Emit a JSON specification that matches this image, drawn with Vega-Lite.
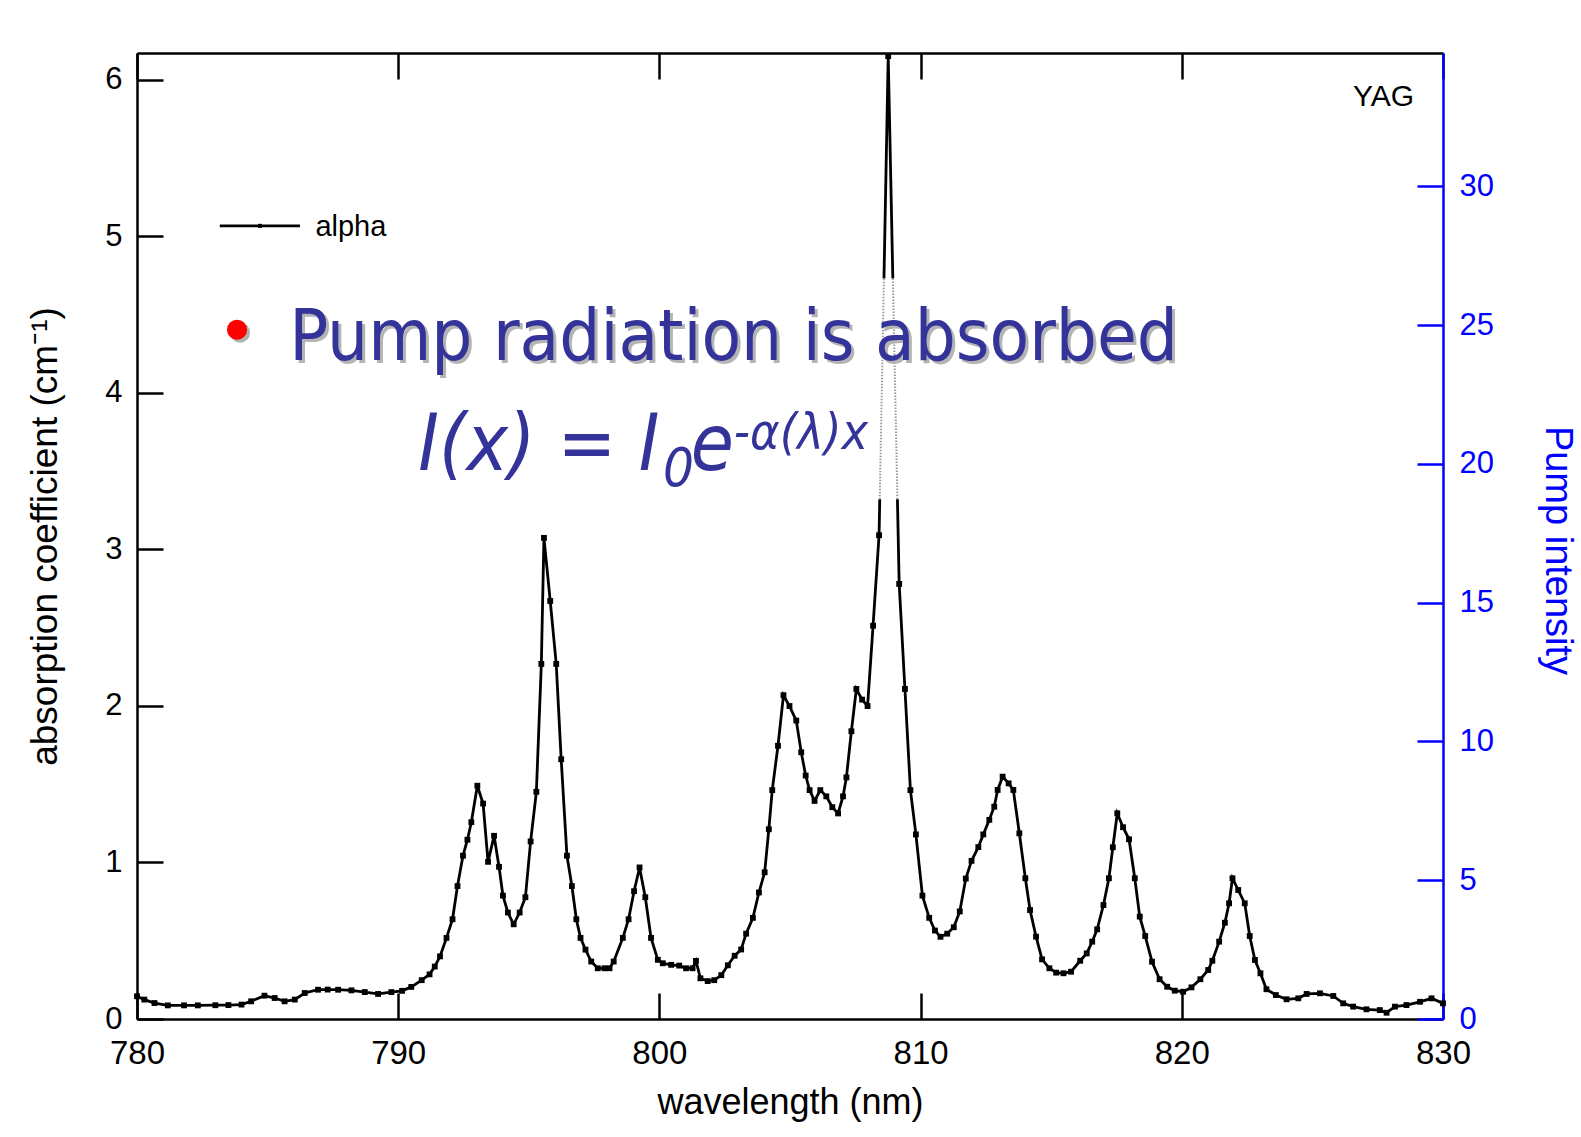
{
  "$schema": "https://vega.github.io/schema/vega-lite/v6.json",
  "width": 1306,
  "height": 966,
  "autosize": {"type": "none"},
  "padding": {"left": 137, "top": 53, "right": 138, "bottom": 118},
  "background": "white",
  "config": {"view": {"stroke": null}, "font": "Liberation Sans", "axis": {"grid": false}},
  "datasets": {
    "spectrum": [
      {"wl": 780.0, "alpha": 0.145}, {"wl": 780.28, "alpha": 0.124}, {"wl": 780.67, "alpha": 0.102}, {"wl": 781.18, "alpha": 0.087},
      {"wl": 781.8, "alpha": 0.087}, {"wl": 782.33, "alpha": 0.087}, {"wl": 783.0, "alpha": 0.088}, {"wl": 783.5, "alpha": 0.089},
      {"wl": 784.0, "alpha": 0.092}, {"wl": 784.37, "alpha": 0.113}, {"wl": 784.88, "alpha": 0.149}, {"wl": 785.27, "alpha": 0.134},
      {"wl": 785.65, "alpha": 0.113}, {"wl": 786.04, "alpha": 0.124}, {"wl": 786.42, "alpha": 0.166}, {"wl": 786.93, "alpha": 0.187},
      {"wl": 787.3, "alpha": 0.188}, {"wl": 787.7, "alpha": 0.187}, {"wl": 788.21, "alpha": 0.183}, {"wl": 788.72, "alpha": 0.172},
      {"wl": 789.23, "alpha": 0.16}, {"wl": 789.74, "alpha": 0.172}, {"wl": 790.15, "alpha": 0.18}, {"wl": 790.5, "alpha": 0.205},
      {"wl": 790.9, "alpha": 0.248}, {"wl": 791.2, "alpha": 0.285}, {"wl": 791.4, "alpha": 0.335}, {"wl": 791.6, "alpha": 0.4},
      {"wl": 791.85, "alpha": 0.518}, {"wl": 792.08, "alpha": 0.637}, {"wl": 792.27, "alpha": 0.849}, {"wl": 792.48, "alpha": 1.043},
      {"wl": 792.65, "alpha": 1.145}, {"wl": 792.8, "alpha": 1.257}, {"wl": 793.03, "alpha": 1.49}, {"wl": 793.25, "alpha": 1.376},
      {"wl": 793.44, "alpha": 1.004}, {"wl": 793.67, "alpha": 1.17}, {"wl": 793.86, "alpha": 0.972}, {"wl": 794.01, "alpha": 0.788},
      {"wl": 794.2, "alpha": 0.68}, {"wl": 794.42, "alpha": 0.605}, {"wl": 794.65, "alpha": 0.68}, {"wl": 794.87, "alpha": 0.778},
      {"wl": 795.07, "alpha": 1.134}, {"wl": 795.29, "alpha": 1.451}, {"wl": 795.48, "alpha": 2.268}, {"wl": 795.58, "alpha": 3.073},
      {"wl": 795.82, "alpha": 2.67}, {"wl": 796.05, "alpha": 2.268}, {"wl": 796.24, "alpha": 1.659}, {"wl": 796.46, "alpha": 1.043},
      {"wl": 796.65, "alpha": 0.849}, {"wl": 796.82, "alpha": 0.637}, {"wl": 796.98, "alpha": 0.518}, {"wl": 797.17, "alpha": 0.443},
      {"wl": 797.39, "alpha": 0.367}, {"wl": 797.64, "alpha": 0.324}, {"wl": 797.9, "alpha": 0.324}, {"wl": 798.09, "alpha": 0.324},
      {"wl": 798.25, "alpha": 0.367}, {"wl": 798.6, "alpha": 0.518}, {"wl": 798.82, "alpha": 0.637}, {"wl": 799.03, "alpha": 0.816},
      {"wl": 799.24, "alpha": 0.968}, {"wl": 799.46, "alpha": 0.778}, {"wl": 799.68, "alpha": 0.518}, {"wl": 799.94, "alpha": 0.378},
      {"wl": 800.13, "alpha": 0.356}, {"wl": 800.45, "alpha": 0.346}, {"wl": 800.76, "alpha": 0.341}, {"wl": 801.02, "alpha": 0.324},
      {"wl": 801.27, "alpha": 0.324}, {"wl": 801.4, "alpha": 0.371}, {"wl": 801.57, "alpha": 0.26}, {"wl": 801.85, "alpha": 0.242},
      {"wl": 802.1, "alpha": 0.248}, {"wl": 802.37, "alpha": 0.28}, {"wl": 802.62, "alpha": 0.343}, {"wl": 802.88, "alpha": 0.404},
      {"wl": 803.13, "alpha": 0.444}, {"wl": 803.32, "alpha": 0.545}, {"wl": 803.58, "alpha": 0.646}, {"wl": 803.81, "alpha": 0.808},
      {"wl": 804.03, "alpha": 0.937}, {"wl": 804.19, "alpha": 1.212}, {"wl": 804.32, "alpha": 1.462}, {"wl": 804.54, "alpha": 1.745},
      {"wl": 804.75, "alpha": 2.068}, {"wl": 804.98, "alpha": 1.999}, {"wl": 805.24, "alpha": 1.906}, {"wl": 805.43, "alpha": 1.704},
      {"wl": 805.6, "alpha": 1.555}, {"wl": 805.75, "alpha": 1.462}, {"wl": 805.94, "alpha": 1.393}, {"wl": 806.16, "alpha": 1.462},
      {"wl": 806.39, "alpha": 1.422}, {"wl": 806.62, "alpha": 1.353}, {"wl": 806.84, "alpha": 1.313}, {"wl": 807.03, "alpha": 1.422},
      {"wl": 807.16, "alpha": 1.543}, {"wl": 807.35, "alpha": 1.838}, {"wl": 807.54, "alpha": 2.108}, {"wl": 807.76, "alpha": 2.04},
      {"wl": 807.97, "alpha": 1.999}, {"wl": 808.18, "alpha": 2.512}, {"wl": 808.41, "alpha": 3.09}, {"wl": 808.76, "alpha": 6.15},
      {"wl": 809.18, "alpha": 2.779}, {"wl": 809.4, "alpha": 2.108}, {"wl": 809.61, "alpha": 1.462}, {"wl": 809.82, "alpha": 1.179},
      {"wl": 810.07, "alpha": 0.788}, {"wl": 810.33, "alpha": 0.646}, {"wl": 810.55, "alpha": 0.565}, {"wl": 810.76, "alpha": 0.525},
      {"wl": 811.02, "alpha": 0.545}, {"wl": 811.27, "alpha": 0.586}, {"wl": 811.5, "alpha": 0.687}, {"wl": 811.73, "alpha": 0.897},
      {"wl": 811.95, "alpha": 1.01}, {"wl": 812.21, "alpha": 1.098}, {"wl": 812.4, "alpha": 1.179}, {"wl": 812.63, "alpha": 1.272},
      {"wl": 812.82, "alpha": 1.356}, {"wl": 812.95, "alpha": 1.463}, {"wl": 813.14, "alpha": 1.548}, {"wl": 813.37, "alpha": 1.505},
      {"wl": 813.55, "alpha": 1.463}, {"wl": 813.78, "alpha": 1.186}, {"wl": 814.01, "alpha": 0.899}, {"wl": 814.19, "alpha": 0.696},
      {"wl": 814.42, "alpha": 0.526}, {"wl": 814.65, "alpha": 0.381}, {"wl": 814.93, "alpha": 0.324}, {"wl": 815.19, "alpha": 0.296},
      {"wl": 815.47, "alpha": 0.292}, {"wl": 815.76, "alpha": 0.302}, {"wl": 816.11, "alpha": 0.372}, {"wl": 816.36, "alpha": 0.419},
      {"wl": 816.57, "alpha": 0.494}, {"wl": 816.76, "alpha": 0.573}, {"wl": 817.0, "alpha": 0.728}, {"wl": 817.21, "alpha": 0.899},
      {"wl": 817.36, "alpha": 1.097}, {"wl": 817.53, "alpha": 1.314}, {"wl": 817.75, "alpha": 1.225}, {"wl": 817.98, "alpha": 1.148},
      {"wl": 818.2, "alpha": 0.899}, {"wl": 818.39, "alpha": 0.654}, {"wl": 818.6, "alpha": 0.53}, {"wl": 818.86, "alpha": 0.366},
      {"wl": 819.15, "alpha": 0.254}, {"wl": 819.44, "alpha": 0.206}, {"wl": 819.73, "alpha": 0.181}, {"wl": 820.05, "alpha": 0.174},
      {"wl": 820.37, "alpha": 0.202}, {"wl": 820.71, "alpha": 0.254}, {"wl": 821.01, "alpha": 0.313}, {"wl": 821.17, "alpha": 0.372},
      {"wl": 821.43, "alpha": 0.494}, {"wl": 821.65, "alpha": 0.615}, {"wl": 821.81, "alpha": 0.739}, {"wl": 821.94, "alpha": 0.899},
      {"wl": 822.16, "alpha": 0.824}, {"wl": 822.41, "alpha": 0.739}, {"wl": 822.6, "alpha": 0.53}, {"wl": 822.8, "alpha": 0.377},
      {"wl": 823.01, "alpha": 0.292}, {"wl": 823.24, "alpha": 0.19}, {"wl": 823.6, "alpha": 0.153}, {"wl": 824.01, "alpha": 0.126},
      {"wl": 824.46, "alpha": 0.132}, {"wl": 824.78, "alpha": 0.16}, {"wl": 825.29, "alpha": 0.164}, {"wl": 825.8, "alpha": 0.147},
      {"wl": 826.18, "alpha": 0.1}, {"wl": 826.56, "alpha": 0.079}, {"wl": 827.07, "alpha": 0.062}, {"wl": 827.58, "alpha": 0.057},
      {"wl": 827.84, "alpha": 0.04}, {"wl": 828.16, "alpha": 0.079}, {"wl": 828.6, "alpha": 0.089}, {"wl": 829.12, "alpha": 0.11},
      {"wl": 829.56, "alpha": 0.132}, {"wl": 830.0, "alpha": 0.1}
    ],
    "gap": [
      {"seg": "left", "wl": 808.436, "alpha": 3.32}, {"seg": "left", "wl": 808.596, "alpha": 4.73},
      {"seg": "right", "wl": 808.938, "alpha": 4.73}, {"seg": "right", "wl": 809.113, "alpha": 3.32}
    ],
    "legendLine": [{"wl": 783.17, "alpha": 5.066}, {"wl": 786.24, "alpha": 5.066}],
    "legendMark": [{"wl": 784.71, "alpha": 5.066}],
    "notes": [
      {"part": "yag", "wl": 827.72, "alpha": 5.89, "text": "YAG"},
      {"part": "alpha", "wl": 786.83, "alpha": 5.06, "text": "alpha"},
      {"part": "bullet", "wl": 783.83, "alpha": 4.403, "text": "•"},
      {"part": "headline", "wl": 785.83, "alpha": 4.21, "text": "Pump radiation is absorbed"},
      {"part": "fmain", "wl": 790.77, "alpha": 3.508, "text": "I(x) = I"},
      {"part": "fsub", "wl": 800.14, "alpha": 3.405, "text": "0"},
      {"part": "fe", "wl": 801.2, "alpha": 3.508, "text": "e"},
      {"part": "fsup", "wl": 802.85, "alpha": 3.64, "text": "-α(λ)x"}
    ]
  },
  "resolve": {"axis": {"x": "independent", "y": "independent"}},
  "layer": [
    {
      "data": {"name": "spectrum"},
      "mark": {"type": "line", "color": "black", "strokeWidth": 2.8},
      "encoding": {
        "x": {"field": "wl", "type": "quantitative", "scale": {"domain": [780, 830], "nice": false, "zero": false},
          "axis": {"orient": "bottom", "title": "wavelength (nm)", "values": [780, 790, 800, 810, 820, 830],
            "tickSize": -26, "tickWidth": 2.5, "tickColor": "black", "domainColor": "black", "domainWidth": 2.5,
            "labelFont": "Liberation Sans", "labelFontSize": 33, "labelColor": "black", "labelPadding": 44, "labelFlush": false,
            "titleFont": "Liberation Sans", "titleFontSize": 36, "titleFontWeight": "normal", "titleColor": "black", "titlePadding": 15}},
        "y": {"field": "alpha", "type": "quantitative", "scale": {"domain": [0, 6.17], "nice": false, "zero": false},
          "axis": {"orient": "left", "title": "absorption coefficient (cm⁻¹)", "values": [0, 1, 2, 3, 4, 5, 6],
            "tickSize": -26, "tickWidth": 2.5, "tickColor": "black", "domainColor": "black", "domainWidth": 2.5,
            "labelFont": "Liberation Sans", "labelFontSize": 31, "labelColor": "black", "labelPadding": 41, "labelFlush": false,
            "titleFont": "Liberation Sans", "titleFontSize": 37, "titleFontWeight": "normal", "titleColor": "black", "titlePadding": 40}}
      }
    },
    {
      "data": {"name": "spectrum"},
      "mark": {"type": "point", "shape": "square", "filled": true, "size": 34, "color": "black", "opacity": 1},
      "encoding": {
        "x": {"field": "wl", "type": "quantitative", "axis": null},
        "y": {"field": "alpha", "type": "quantitative", "axis": null}
      }
    },
    {
      "data": {"name": "gap"},
      "mark": {"type": "line", "color": "white", "strokeWidth": 5},
      "encoding": {
        "x": {"field": "wl", "type": "quantitative", "axis": null},
        "y": {"field": "alpha", "type": "quantitative", "axis": null},
        "detail": {"field": "seg"}
      }
    },
    {
      "data": {"name": "gap"},
      "mark": {"type": "line", "color": "#9a9a9a", "strokeWidth": 2, "strokeDash": [1.5, 1.5]},
      "encoding": {
        "x": {"field": "wl", "type": "quantitative", "axis": null},
        "y": {"field": "alpha", "type": "quantitative", "axis": null},
        "detail": {"field": "seg"}
      }
    },
    {
      "data": {"name": "notes"},
      "transform": [{"filter": "datum.part == 'yag'"}],
      "mark": {"type": "text", "align": "center", "baseline": "middle", "fontSize": 30, "color": "black", "font": "Liberation Sans"},
      "encoding": {
        "x": {"field": "wl", "type": "quantitative",
          "axis": {"orient": "top", "title": null, "labels": false, "values": [780, 790, 800, 810, 820, 830],
            "tickSize": -26, "tickWidth": 2.5, "tickColor": "black", "domainColor": "black", "domainWidth": 2.5}},
        "y": {"field": "alpha", "type": "quantitative", "axis": null},
        "text": {"field": "text"}
      }
    },
    {
      "data": {"name": "legendLine"},
      "mark": {"type": "line", "color": "black", "strokeWidth": 2.8},
      "encoding": {
        "x": {"field": "wl", "type": "quantitative", "axis": null},
        "y": {"field": "alpha", "type": "quantitative", "axis": null}
      }
    },
    {
      "data": {"name": "legendMark"},
      "mark": {"type": "point", "shape": "square", "filled": true, "size": 16, "color": "black", "opacity": 1},
      "encoding": {
        "x": {"field": "wl", "type": "quantitative", "axis": null},
        "y": {"field": "alpha", "type": "quantitative",
          "axis": {"orient": "right", "title": "Pump intensity",
            "values": [0, 0.886494, 1.772989, 2.659483, 3.545977, 4.432471, 5.318966],
            "labelExpr": "format(datum.value * 34.8 / 6.17, '.0f')",
            "tickSize": -26, "tickWidth": 2.5, "tickColor": "#0000ff", "domainColor": "#0000ff", "domainWidth": 2.5,
            "labelFont": "Liberation Sans", "labelFontSize": 31, "labelColor": "#0000ff", "labelPadding": 42, "labelFlush": false,
            "titleFont": "Liberation Sans", "titleFontSize": 38, "titleFontWeight": "normal", "titleColor": "#0000ff", "titlePadding": 44, "titleY": 497}}
      }
    },
    {
      "data": {"name": "notes"},
      "transform": [{"filter": "datum.part == 'alpha'"}],
      "mark": {"type": "text", "align": "left", "baseline": "middle", "fontSize": 29, "color": "black", "font": "Liberation Sans"},
      "encoding": {
        "x": {"field": "wl", "type": "quantitative", "axis": null},
        "y": {"field": "alpha", "type": "quantitative", "axis": null},
        "text": {"field": "text"}
      }
    },
    {
      "data": {"name": "notes"},
      "transform": [{"filter": "datum.part == 'bullet'"}],
      "mark": {"type": "point", "shape": "circle", "filled": true, "size": 400, "color": "#b0b0b0", "opacity": 1, "xOffset": 3, "yOffset": 3},
      "encoding": {
        "x": {"field": "wl", "type": "quantitative", "axis": null},
        "y": {"field": "alpha", "type": "quantitative", "axis": null}
      }
    },
    {
      "data": {"name": "notes"},
      "transform": [{"filter": "datum.part == 'bullet'"}],
      "mark": {"type": "point", "shape": "circle", "filled": true, "size": 400, "color": "#ff0000", "opacity": 1},
      "encoding": {
        "x": {"field": "wl", "type": "quantitative", "axis": null},
        "y": {"field": "alpha", "type": "quantitative", "axis": null}
      }
    },
    {
      "data": {"name": "notes"},
      "transform": [{"filter": "datum.part == 'headline'"}],
      "mark": {"type": "text", "align": "left", "baseline": "alphabetic", "fontSize": 72, "color": "#b4b4b4", "font": "DejaVu Sans Condensed", "dx": 3, "dy": 3},
      "encoding": {
        "x": {"field": "wl", "type": "quantitative", "axis": null},
        "y": {"field": "alpha", "type": "quantitative", "axis": null},
        "text": {"field": "text"}
      }
    },
    {
      "data": {"name": "notes"},
      "transform": [{"filter": "datum.part == 'headline'"}],
      "mark": {"type": "text", "align": "left", "baseline": "alphabetic", "fontSize": 72, "color": "#333399", "font": "DejaVu Sans Condensed"},
      "encoding": {
        "x": {"field": "wl", "type": "quantitative", "axis": null},
        "y": {"field": "alpha", "type": "quantitative", "axis": null},
        "text": {"field": "text"}
      }
    },
    {
      "data": {"name": "notes"},
      "transform": [{"filter": "datum.part == 'fmain' || datum.part == 'fe'"}],
      "mark": {"type": "text", "align": "left", "baseline": "alphabetic", "fontSize": 78, "fontStyle": "italic", "color": "#333399", "font": "DejaVu Sans Condensed"},
      "encoding": {
        "x": {"field": "wl", "type": "quantitative", "axis": null},
        "y": {"field": "alpha", "type": "quantitative", "axis": null},
        "text": {"field": "text"}
      }
    },
    {
      "data": {"name": "notes"},
      "transform": [{"filter": "datum.part == 'fsub'"}],
      "mark": {"type": "text", "align": "left", "baseline": "alphabetic", "fontSize": 54, "fontStyle": "italic", "color": "#333399", "font": "DejaVu Sans Condensed"},
      "encoding": {
        "x": {"field": "wl", "type": "quantitative", "axis": null},
        "y": {"field": "alpha", "type": "quantitative", "axis": null},
        "text": {"field": "text"}
      }
    },
    {
      "data": {"name": "notes"},
      "transform": [{"filter": "datum.part == 'fsup'"}],
      "mark": {"type": "text", "align": "left", "baseline": "alphabetic", "fontSize": 50, "fontStyle": "italic", "color": "#333399", "font": "DejaVu Sans Condensed"},
      "encoding": {
        "x": {"field": "wl", "type": "quantitative", "axis": null},
        "y": {"field": "alpha", "type": "quantitative", "axis": null},
        "text": {"field": "text"}
      }
    }
  ]
}
